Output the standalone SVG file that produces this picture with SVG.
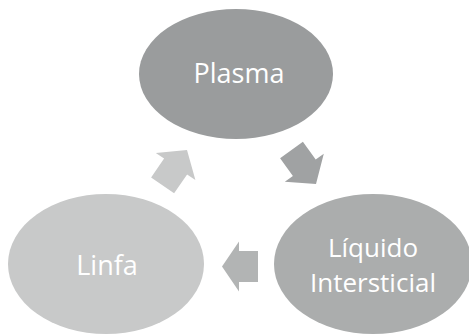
<svg xmlns="http://www.w3.org/2000/svg" width="469" height="335" viewBox="0 0 469 335">
<style>
.lbl{font-family:"Open Sans","Liberation Sans",sans-serif;font-size:27px;fill:#ffffff;text-anchor:middle}
.sm{font-size:26px}
</style>
<rect width="469" height="335" fill="#ffffff"/>
<g id="connectors">
<polygon fill="#a0a2a3" points="302.9,141.8 315.7,159.6 323.8,153.8 316,184 284.8,181.8 292.9,176 280.1,158.2"/>
<polygon fill="#b2b4b4" points="222,266.5 239,241.5 239,251 258,251 258,282 239,282 239,291.5"/>
<polygon fill="#c8c9c9" points="187,150 195.4,180.1 187.1,174.5 174.1,193.3 151.1,177.4 164.1,158.5 155.8,152.9"/>
</g>
<g id="plasma">
<ellipse cx="236" cy="74" rx="97" ry="65" fill="#9a9c9d"/>
<text class="lbl" x="239" y="83">Plasma</text>
</g>
<g id="liquido">
<ellipse cx="373" cy="264" rx="99" ry="70" fill="#abadad"/>
<text class="lbl sm" x="373" y="257">Líquido</text>
<text class="lbl sm" x="373" y="292">Intersticial</text>
</g>
<g id="linfa">
<ellipse cx="106" cy="264" rx="98" ry="70" fill="#c8c9c9"/>
<text class="lbl" x="107" y="275">Linfa</text>
</g>
</svg>
